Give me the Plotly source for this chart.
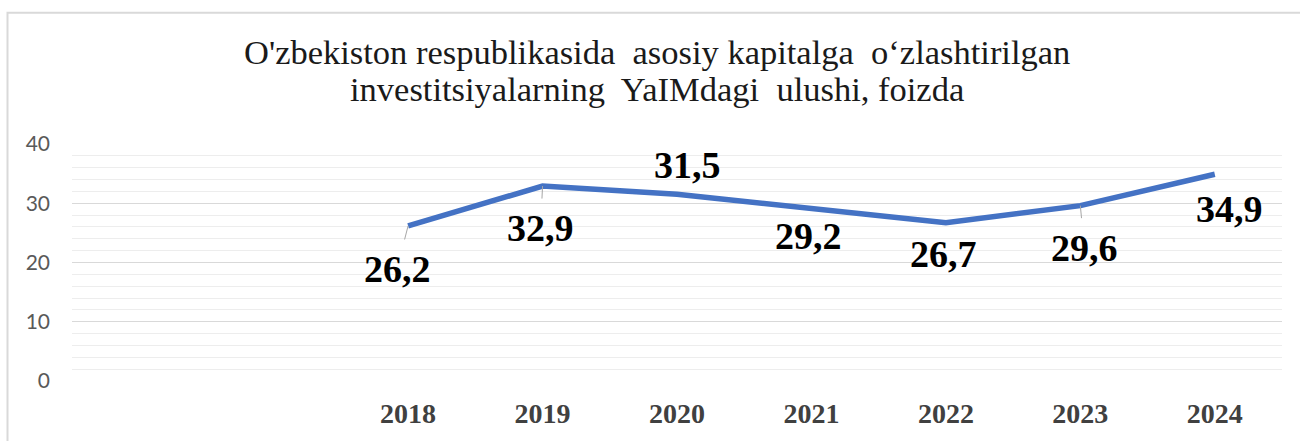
import plotly.graph_objects as go

years = [2018, 2019, 2020, 2021, 2022, 2023, 2024]
values = [26.2, 32.9, 31.5, 29.2, 26.7, 29.6, 34.9]
y_ticks = [0, 10, 20, 30, 40]

title_lines = [
    "O'zbekiston respublikasida\u00a0 asosiy kapitalga\u00a0 o\u2018zlashtirilgan",
    "investitsiyalarning\u00a0 YaIMdagi\u00a0 ulushi, foizda",
]

# label placement (pixel offsets from the data point) and whether a leader line is drawn
label_offsets = [(-11, 43), (-2, 42), (10, -29), (-3, 28), (-2, 31), (4, 42), (15, 35)]
label_leaders = [True, True, False, False, False, True, False]

SERIF = "Liberation Serif, Times New Roman, DejaVu Serif, serif"

W, H = 1300, 441
ML, MR, MT, MB = 72, 18, 144, 54
PW, PH = W - ML - MR, H - MT - MB


def px_x(px):
    return (px - ML) / PW


def px_y(py):
    return (H - MB - py) / PH


fig = go.Figure()
fig.add_trace(go.Scatter(
    x=years, y=values, mode="lines",
    line=dict(color="#4472C4", width=5.5),
    hoverinfo="skip", showlegend=False,
))

annotations = []
for yr, v, (dx, dy), lead in zip(years, values, label_offsets, label_leaders):
    txt = f"{v:.1f}".replace(".", ",")
    font = dict(family=SERIF, size=38, color="#000000")
    if lead:
        annotations.append(dict(
            x=yr, y=v, xref="x", yref="y", text=f"<b>{txt}</b>", font=font,
            showarrow=True, arrowhead=0, arrowwidth=1, arrowcolor="#A6A6A6",
            ax=dx, ay=dy, axref="pixel", ayref="pixel",
            standoff=0, startstandoff=7,
        ))
    else:
        annotations.append(dict(
            x=yr, y=v, xref="x", yref="y", text=f"<b>{txt}</b>", font=font,
            showarrow=False, xshift=dx, yshift=-dy,
        ))

# title, one annotation per line
for line, cy in zip(title_lines, [50, 88]):
    annotations.append(dict(
        x=px_x(657), y=px_y(cy), xref="paper", yref="paper",
        text=line, showarrow=False, xanchor="center", yanchor="middle",
        font=dict(family=SERIF, size=34.5, color="#1a1a1a"),
    ))

fig.update_layout(
    width=W, height=H,
    margin=dict(l=ML, r=MR, t=MT, b=MB, pad=0),
    paper_bgcolor="white", plot_bgcolor="white",
    annotations=annotations,
    xaxis=dict(
        range=[2015.5, 2024.5],
        tickvals=years, ticktext=[str(y) for y in years],
        showgrid=False, zeroline=False, showline=False,
        ticks="", ticklabelstandoff=13,
        tickfont=dict(family=SERIF, size=28, color="#404040", weight="bold"),
        fixedrange=True,
    ),
    yaxis=dict(
        range=[0, 40], tickvals=y_ticks,
        showgrid=True, gridcolor="#D9D9D9", gridwidth=1.3,
        minor=dict(dtick=2, showgrid=True, gridcolor="#EDEDED", gridwidth=1),
        zeroline=False, showline=False, ticks="",
        ticklabelstandoff=21,
        tickfont=dict(family="Lato", size=21, color="#595959"),
        fixedrange=True,
    ),
    shapes=[dict(
        type="rect", xref="paper", yref="paper",
        x0=px_x(7.5), x1=px_x(W + 10),
        y0=px_y(H + 10), y1=px_y(9.5),
        line=dict(color="#D9D9D9", width=2), fillcolor="rgba(0,0,0,0)", layer="below",
    )],
)

fig.write_html("out.html", config={"displayModeBar": False},
               post_script="document.body.style.margin='0';document.body.style.padding='0';")
